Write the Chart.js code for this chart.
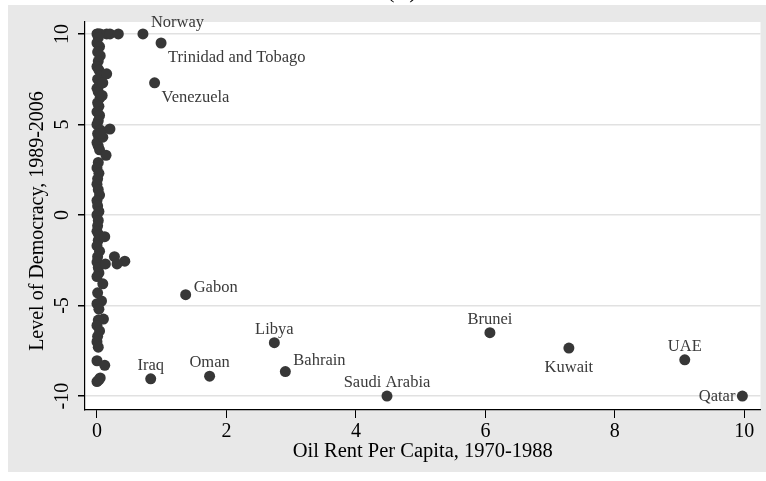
<!DOCTYPE html>
<html>
<head>
<meta charset="utf-8">
<script src="https://cdn.jsdelivr.net/npm/chart.js@4.4.1/dist/chart.umd.min.js"></script>
<style>
  body { margin: 0; background: #fff; }
  #wrap { width: 766px; height: 481px; }
</style>
</head>
<body>
<div id="wrap"><canvas id="oilChart" width="766" height="481"></canvas></div>
<script>
// Labeled countries
const labelNames = ['Norway', 'Trinidad and Tobago', 'Venezuela', 'Gabon', 'Libya', 'Iraq', 'Oman',
    'Bahrain', 'Saudi Arabia', 'Brunei', 'Kuwait', 'UAE', 'Qatar'];
const labelX = [0.71, 0.99, 0.89, 1.37, 2.74, 0.83, 1.74, 2.91, 4.48, 6.07, 7.29, 9.08, 9.97];
const labelY = [10, 9.5, 7.3, -4.4, -7.05, -9.05, -8.9, -8.65, -10, -6.5, -7.35, -8.0, -10];
// where the label sits relative to the point
const labelPos = ['ur', 'lr', 'lr', 'r', 't', 't', 't', 'ur', 't', 't', 'b', 't', 'l'];

// Unlabeled countries (mostly near zero oil rent)
const clusterX = [
    0, 0.01, 0.03, 0.05, 0.15, 0.2, 0.33,
    0.02, 0.0, 0.04, 0.01, 0.05, 0.02, 0.0, 0.03, 0.06, 0.01, 0.04, 0.0, 0.02, 0.05,
    0.01, 0.03, 0.0, 0.04, 0.02, 0.0, 0.05, 0.01, 0.03, 0.0, 0.02, 0.04,
    0.15, 0.09, 0.08, 0.2, 0.09, 0.06, 0.14,
    0.02, 0.0, 0.03, 0.01, 0.0, 0.02, 0.04, 0.0, 0.01, 0.03, 0.0, 0.02,
    0.01, 0.0, 0.03, 0.02, 0.0, 0.04, 0.01, 0.0, 0.02, 0.03, 0.0,
    0.12, 0.27, 0.43, 0.31, 0.13, 0.09,
    0.01, 0.07, 0.0, 0.03, 0.1, 0.02, 0.0, 0.04, 0.01, 0.0, 0.02,
    0.0, 0.12, 0.05, 0.0, 0.03
];
const clusterY = [
    10, 10, 10, 10, 10, 10, 10,
    9.8, 9.5, 9.3, 9.0, 8.8, 8.5, 8.2, 8.0, 7.7, 7.5, 7.2, 7.0, 6.8, 6.5,
    6.2, 6.0, 5.7, 5.5, 5.2, 5.0, 4.7, 4.5, 4.3, 4.0, 3.8, 3.6,
    7.8, 7.3, 6.6, 4.75, 4.3, 4.5, 3.3,
    2.9, 2.6, 2.3, 2.0, 1.7, 1.4, 1.1, 0.8, 0.5, 0.2, 0.0, -0.3,
    -0.6, -0.9, -1.1, -1.4, -1.7, -2.0, -2.3, -2.6, -2.9, -3.2, -3.4,
    -1.2, -2.3, -2.55, -2.7, -2.7, -3.8,
    -4.3, -4.75, -4.9, -5.2, -5.75, -5.8, -6.1, -6.4, -6.7, -7.0, -7.3,
    -8.05, -8.3, -9.0, -9.2, -9.1
];

const xTicks = [0, 2, 4, 6, 8, 10];
const yTicks = [-10, -5, 0, 5, 10];

const serif = "'Liberation Serif', 'DejaVu Serif', serif";
const dotColor = '#373737';

const toPoints = (xs, ys) => xs.map((x, i) => ({ x: x, y: ys[i] }));

const stataLook = {
    id: 'stataLook',
    beforeDraw(chart) {
        const ctx = chart.ctx;
        const a = chart.chartArea;
        ctx.save();
        ctx.fillStyle = '#e8e8e8';
        ctx.fillRect(8, 5, 758, 467);
        ctx.fillStyle = '#ffffff';
        ctx.fillRect(a.left, a.top, a.right - a.left, a.bottom - a.top);
        ctx.restore();
    },
    afterDraw(chart) {
        const ctx = chart.ctx;
        const a = chart.chartArea;
        const yScale = chart.scales.y;
        ctx.save();

        // panel letter, cut off at the top
        ctx.fillStyle = '#000';
        ctx.font = '22px ' + serif;
        ctx.textAlign = 'center';
        ctx.textBaseline = 'alphabetic';
        ctx.fillText('(C)', 402, -2);

        // y tick labels, vertical
        ctx.font = '20px ' + serif;
        ctx.textBaseline = 'middle';
        yTicks.forEach(v => {
            const py = yScale.getPixelForValue(v);
            ctx.save();
            ctx.translate(63, py);
            ctx.rotate(-Math.PI / 2);
            ctx.fillText(String(v), 0, 0);
            ctx.restore();
        });

        // axis titles
        ctx.save();
        ctx.translate(38, (a.top + a.bottom) / 2 + 5);
        ctx.rotate(-Math.PI / 2);
        ctx.fillText('Level of Democracy, 1989-2006', 0, 0);
        ctx.restore();
        ctx.font = '20.5px ' + serif;
        ctx.fillText('Oil Rent Per Capita, 1970-1988', (a.left + a.right) / 2, 452);

        // country labels
        ctx.fillStyle = '#3a3a3a';
        ctx.font = '16.5px ' + serif;
        const pts = chart.getDatasetMeta(1).data;
        pts.forEach((p, i) => {
            const pos = labelPos[i];
            let tx = p.x, ty = p.y;
            if (pos === 'ur') { ctx.textAlign = 'left'; tx += 8; ty -= 11; }
            else if (pos === 'lr') { ctx.textAlign = 'left'; tx += 7; ty += 15; }
            else if (pos === 'r') { ctx.textAlign = 'left'; tx += 8; ty -= 7; }
            else if (pos === 't') { ctx.textAlign = 'center'; ty -= 13; }
            else if (pos === 'b') { ctx.textAlign = 'center'; ty += 20; }
            else if (pos === 'l') { ctx.textAlign = 'right'; tx -= 7; ty += 1; }
            ctx.fillText(labelNames[i], tx, ty);
        });
        ctx.restore();
    }
};

new Chart(document.getElementById('oilChart'), {
    type: 'scatter',
    data: {
        datasets: [
            {
                data: toPoints(clusterX, clusterY),
                backgroundColor: dotColor,
                borderColor: dotColor,
                pointRadius: 5.5,
                pointBorderWidth: 0
            },
            {
                data: toPoints(labelX, labelY),
                backgroundColor: dotColor,
                borderColor: dotColor,
                pointRadius: 5.5,
                pointBorderWidth: 0
            }
        ]
    },
    options: {
        responsive: false,
        animation: false,
        events: [],
        layout: { padding: { top: 22, right: 4, left: 0, bottom: 0 } },
        plugins: {
            legend: { display: false },
            tooltip: { enabled: false }
        },
        scales: {
            x: {
                type: 'linear',
                min: -0.185,
                max: 10.25,
                afterBuildTicks: s => { s.ticks = xTicks.map(v => ({ value: v })); },
                afterFit: s => { s.height = 71; },
                ticks: {
                    color: '#000',
                    font: { family: serif, size: 20 },
                    padding: 2,
                    maxRotation: 0
                },
                grid: {
                    drawOnChartArea: false,
                    drawTicks: true,
                    tickLength: 8,
                    tickColor: '#000'
                },
                border: { display: true, color: '#000', width: 1.2 }
            },
            y: {
                type: 'linear',
                min: -10.77,
                max: 10.66,
                afterBuildTicks: s => { s.ticks = yTicks.map(v => ({ value: v })); },
                afterFit: s => { s.width = 85; },
                ticks: { display: false },
                grid: {
                    color: '#e1e1e1',
                    lineWidth: 1.5,
                    drawTicks: true,
                    tickLength: 7,
                    tickColor: '#000'
                },
                border: { display: true, color: '#000', width: 1.2 }
            }
        }
    },
    plugins: [stataLook]
});
</script>
</body>
</html>
